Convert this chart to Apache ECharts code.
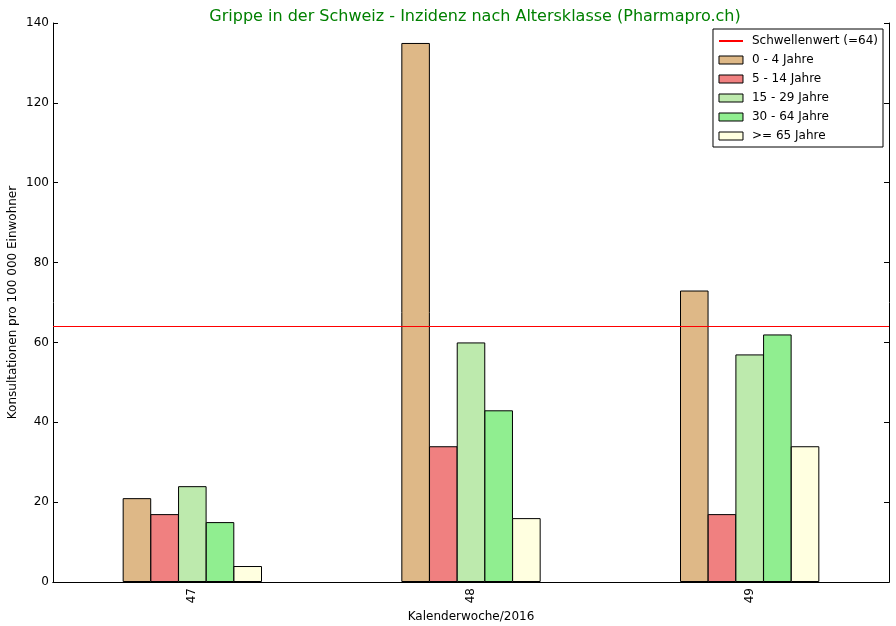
<!DOCTYPE html>
<html><head><meta charset="utf-8">
<script src="https://cdn.jsdelivr.net/npm/echarts@6/dist/echarts.min.js"></script>
<style>html,body{margin:0;padding:0;background:#fff}#c{width:896px;height:626px}</style>
</head><body><div id="c"></div>
<script>
var categories = ['47', '48', '49'];
var seriesNames = ['0 - 4 Jahre', '5 - 14 Jahre', '15 - 29 Jahre', '30 - 64 Jahre', '>= 65 Jahre'];
var age0_4 = [21, 135, 73];
var age5_14 = [17, 34, 17];
var age15_29 = [24, 60, 57];
var age30_64 = [15, 43, 62];
var age65 = [4, 16, 34];
var threshold = 64;
var thresholdName = 'Schwellenwert (=64)';
var yTicks = [0, 20, 40, 60, 80, 100, 120, 140];

var colors = ['#deb887', '#f08080', '#bdeaad', '#90ee90', '#ffffe0'];
var values = [age0_4, age5_14, age15_29, age30_64, age65];
var font = 'DejaVu Sans';

var series = [];
for (var i = 0; i < seriesNames.length; i++) {
  series.push({
    name: seriesNames[i], type: 'bar', data: values[i],
    barGap: '-3%', barCategoryGap: '50%',
    itemStyle: {color: colors[i], borderColor: '#000', borderWidth: 1}
  });
}
series.push({
  name: thresholdName, type: 'line', data: [], symbol: 'none', z: 10,
  lineStyle: {color: '#ff0000', width: 1}, itemStyle: {color: '#ff0000'},
  silent: true,
  markLine: {symbol: ['none', 'none'], silent: true, animation: false, z: 10,
    label: {show: false}, lineStyle: {color: '#ff0000', width: 1, type: 'solid'},
    data: [{yAxis: threshold}]}
});

var chart = echarts.init(document.getElementById('c'));
chart.setOption({
  animation: false,
  textStyle: {fontFamily: font},
  title: {text: 'Grippe in der Schweiz - Inzidenz nach Altersklasse (Pharmapro.ch)', left: 470, textAlign: 'center', top: 4,
    textStyle: {color: '#008000', fontSize: 16, fontWeight: 'normal', fontFamily: font}},
  legend: {
    data: [{name: thresholdName, itemStyle: {opacity: 0}}].concat(seriesNames.map(function(n){return {name: n, icon: 'rect', itemStyle: {borderWidth: 1, borderColor: '#000'}};})),
    orient: 'vertical', right: 13, top: 29, itemGap: 5, itemWidth: 24, itemHeight: 8,
    borderColor: '#000', borderWidth: 1, borderRadius: 0, padding: [5, 5, 4, 5], backgroundColor: '#fff',
    textStyle: {fontSize: 12, lineHeight: 14, fontFamily: font, color: '#000', padding: [0, 0, 0, 4]}
  },
  grid: {left: 53, right: 7, top: 23, bottom: 44, containLabel: false, outerBoundsMode: 'none'},
  xAxis: [{
    type: 'category', data: categories, boundaryGap: true,
    name: 'Kalenderwoche/2016', nameLocation: 'middle', nameGap: 26,
    nameTextStyle: {fontSize: 12, color: '#000', fontFamily: font},
    axisLine: {lineStyle: {color: '#000', width: 1}},
    axisTick: {inside: true, alignWithLabel: true, length: 5, lineStyle: {color: '#000'}},
    axisLabel: {rotate: 90, color: '#000', fontSize: 12, margin: 6, fontFamily: font},
    splitLine: {show: false}
  }, {
    type: 'category', data: categories, position: 'top', boundaryGap: true,
    axisLine: {lineStyle: {color: '#000', width: 1}},
    axisTick: {inside: true, alignWithLabel: true, length: 5, lineStyle: {color: '#000'}},
    axisLabel: {show: false}, splitLine: {show: false}
  }],
  yAxis: [{
    type: 'value', min: 0, max: 140, interval: 20,
    name: 'Konsultationen pro 100 000 Einwohner', nameLocation: 'middle', nameGap: 34, nameMoveOverlap: false,
    nameTextStyle: {fontSize: 12, color: '#000', fontFamily: font},
    axisLine: {show: true, lineStyle: {color: '#000', width: 1}},
    axisTick: {show: true, inside: true, length: 5, lineStyle: {color: '#000'}},
    axisLabel: {color: '#000', fontSize: 12, margin: 4, fontFamily: font,
      formatter: function(v){ return yTicks.indexOf(v) >= 0 ? String(v) : ''; }},
    splitLine: {show: false}
  }, {
    type: 'value', min: 0, max: 140, interval: 20, position: 'right',
    axisLine: {show: true, lineStyle: {color: '#000', width: 1}},
    axisTick: {show: true, inside: true, length: 5, lineStyle: {color: '#000'}},
    axisLabel: {show: false}, splitLine: {show: false}
  }],
  series: series
});
</script></body></html>
